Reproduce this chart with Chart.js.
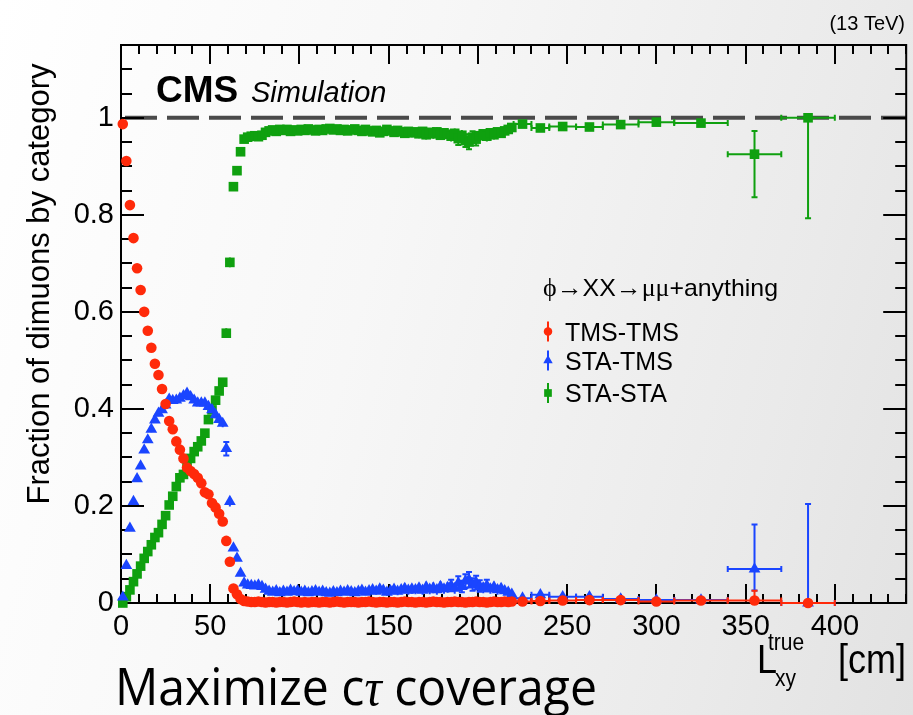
<!DOCTYPE html>
<html>
<head>
<meta charset="utf-8">
<script src="https://cdn.jsdelivr.net/npm/chart.js@4/dist/chart.umd.min.js"></script>
<style>
  html, body { margin: 0; padding: 0; }
  body {
    width: 913px; height: 715px; overflow: hidden;
    background: linear-gradient(105deg, #ffffff 0%, #f7f7f7 40%, #eaeaea 80%, #e2e2e2 100%);
  }
  canvas { display: block; }
</style>
</head>
<body>
<canvas id="chart" width="913" height="715"></canvas>
<script>
// Bin edges in L_xy^true [cm]: 2 cm bins up to 220 cm, wider bins beyond.
const binEdges = [
  0, 2, 4, 6, 8, 10, 12, 14, 16, 18, 20, 22, 24, 26, 28, 30, 32, 34, 36, 38,
  40, 42, 44, 46, 48, 50, 52, 54, 56, 58, 60, 62, 64, 66, 68, 70, 72, 74, 76, 78,
  80, 82, 84, 86, 88, 90, 92, 94, 96, 98, 100, 102, 104, 106, 108, 110, 112, 114, 116, 118,
  120, 122, 124, 126, 128, 130, 132, 134, 136, 138, 140, 142, 144, 146, 148, 150, 152, 154, 156, 158,
  160, 162, 164, 166, 168, 170, 172, 174, 176, 178, 180, 182, 184, 186, 188, 190, 192, 194, 196, 198,
  200, 202, 204, 206, 208, 210, 212, 214, 216, 218, 220,
  230, 240, 255, 270, 290, 310, 340, 370, 400
];

// Fraction of dimuons per category, one value per bin
const tmsTms = [
  0.987, 0.911, 0.820, 0.752, 0.690, 0.645, 0.600, 0.561, 0.526, 0.493,
  0.470, 0.441, 0.410, 0.375, 0.358, 0.333, 0.316, 0.298, 0.279, 0.272,
  0.266, 0.258, 0.247, 0.228, 0.224, 0.206, 0.197, 0.184, 0.168, 0.128,
  0.085, 0.030, 0.018, 0.008, 0.004,
  0.003, 0.002, 0.002, 0.003, 0.002, 0.001, 0.002, 0.002, 0.001, 0.002,
  0.002, 0.001, 0.002, 0.003, 0.002, 0.001, 0.002, 0.001, 0.002, 0.002,
  0.001, 0.002, 0.002, 0.001, 0.002, 0.003, 0.002, 0.001, 0.002, 0.002,
  0.002, 0.001, 0.002, 0.002, 0.003, 0.002, 0.001, 0.002, 0.002, 0.001,
  0.002, 0.002, 0.001, 0.002, 0.003, 0.002, 0.002, 0.001, 0.002, 0.002,
  0.001, 0.002, 0.003, 0.002, 0.002, 0.001, 0.002, 0.002, 0.003, 0.002,
  0.002, 0.001, 0.002, 0.002, 0.003, 0.002, 0.002, 0.001, 0.002, 0.003,
  0.002, 0.002, 0.003, 0.002, 0.003,
  0.003, 0.004, 0.005, 0.006, 0.006, 0.003, 0.005, 0.005, 0.000
];
const staTms = [
  0.012, 0.077, 0.154, 0.209, 0.256, 0.282, 0.315, 0.336, 0.358, 0.377,
  0.391, 0.398, 0.408, 0.420, 0.417, 0.418, 0.422, 0.427, 0.432, 0.425,
  0.418, 0.412, 0.412, 0.412, 0.405, 0.398, 0.388, 0.378, 0.370, 0.318,
  0.209, 0.113, 0.092, 0.061, 0.041,
  0.037, 0.036, 0.035, 0.037, 0.034, 0.028, 0.024, 0.022, 0.025, 0.021,
  0.024, 0.022, 0.026, 0.023, 0.025, 0.022, 0.024, 0.021, 0.023, 0.025,
  0.022, 0.024, 0.021, 0.020, 0.023, 0.021, 0.024, 0.022, 0.025, 0.023,
  0.021, 0.024, 0.026, 0.022, 0.025, 0.027, 0.024, 0.029, 0.026, 0.022,
  0.025, 0.028, 0.024, 0.027, 0.030, 0.026, 0.029, 0.027, 0.031, 0.026,
  0.033, 0.028, 0.031, 0.027, 0.034, 0.029, 0.032, 0.036, 0.030, 0.041,
  0.034, 0.045, 0.048, 0.038, 0.042, 0.035, 0.031, 0.036, 0.029, 0.033,
  0.027, 0.030, 0.025, 0.022, 0.018,
  0.010, 0.017, 0.013, 0.013, 0.008, 0.006, 0.006, 0.070, 0.000
];
const staSta = [
  0.000, 0.013, 0.027, 0.044, 0.060, 0.076, 0.092, 0.106, 0.120, 0.135,
  0.145, 0.162, 0.180, 0.202, 0.220, 0.240, 0.258, 0.265, 0.282, 0.298,
  0.312, 0.322, 0.334, 0.350, 0.378, 0.398, 0.418, 0.437, 0.455, 0.556,
  0.702, 0.858, 0.891, 0.930, 0.956,
  0.960, 0.962, 0.963, 0.961, 0.964, 0.970, 0.973, 0.975, 0.972, 0.976,
  0.974, 0.976, 0.972, 0.975, 0.973, 0.976, 0.974, 0.977, 0.975, 0.973,
  0.976, 0.974, 0.977, 0.978, 0.975, 0.977, 0.974, 0.976, 0.973, 0.975,
  0.977, 0.974, 0.972, 0.976, 0.973, 0.971, 0.974, 0.969, 0.972, 0.976,
  0.973, 0.970, 0.974, 0.971, 0.968, 0.972, 0.969, 0.971, 0.967, 0.972,
  0.965, 0.970, 0.967, 0.971, 0.964, 0.969, 0.966, 0.962, 0.968, 0.957,
  0.964, 0.953, 0.950, 0.960, 0.956, 0.963, 0.967, 0.962, 0.969, 0.965,
  0.971, 0.968, 0.973, 0.976, 0.980,
  0.987, 0.979, 0.982, 0.981, 0.986, 0.991, 0.989, 0.925, 1.000
];

// Statistical uncertainties, 2 cm bins (symmetric)
const tmsTmsErrFine = [
  0.003, 0.004, 0.005, 0.005, 0.005, 0.005, 0.005, 0.005, 0.005, 0.005,
  0.005, 0.005, 0.005, 0.005, 0.005, 0.005, 0.005, 0.005, 0.005, 0.005,
  0.005, 0.005, 0.005, 0.005, 0.005, 0.005, 0.005, 0.005, 0.005, 0.006,
  0.005, 0.003, 0.002, 0.002, 0.001,
  0.001, 0.001, 0.001, 0.001, 0.001, 0.001, 0.001, 0.001, 0.001, 0.001,
  0.001, 0.001, 0.001, 0.001, 0.001, 0.001, 0.001, 0.001, 0.001, 0.001,
  0.001, 0.001, 0.001, 0.001, 0.001, 0.001, 0.001, 0.001, 0.001, 0.001,
  0.001, 0.001, 0.001, 0.001, 0.001, 0.001, 0.001, 0.001, 0.001, 0.001,
  0.001, 0.001, 0.001, 0.001, 0.001, 0.001, 0.001, 0.001, 0.001, 0.001,
  0.001, 0.001, 0.001, 0.001, 0.001, 0.001, 0.001, 0.001, 0.001, 0.001,
  0.001, 0.001, 0.001, 0.001, 0.001, 0.001, 0.001, 0.001, 0.001, 0.001,
  0.001, 0.001, 0.001, 0.001, 0.001
];
const staTmsErrFine = [
  0.002, 0.004, 0.005, 0.005, 0.006, 0.006, 0.006, 0.006, 0.006, 0.006,
  0.006, 0.006, 0.006, 0.006, 0.006, 0.006, 0.006, 0.006, 0.006, 0.006,
  0.006, 0.006, 0.006, 0.007, 0.007, 0.007, 0.008, 0.008, 0.008, 0.014,
  0.010, 0.006, 0.005, 0.004, 0.003,
  0.004, 0.004, 0.004, 0.004, 0.004, 0.004, 0.004, 0.004, 0.004, 0.004,
  0.004, 0.004, 0.005, 0.004, 0.005, 0.004, 0.005, 0.004, 0.005, 0.005,
  0.005, 0.005, 0.005, 0.005, 0.005, 0.005, 0.006, 0.005, 0.006, 0.006,
  0.006, 0.006, 0.007, 0.006, 0.007, 0.007, 0.007, 0.008, 0.007, 0.007,
  0.008, 0.009, 0.008, 0.009, 0.010, 0.009, 0.010, 0.009, 0.010, 0.009,
  0.011, 0.010, 0.011, 0.010, 0.011, 0.010, 0.011, 0.012, 0.011, 0.014,
  0.012, 0.014, 0.016, 0.013, 0.014, 0.012, 0.011, 0.012, 0.010, 0.011,
  0.010, 0.010, 0.009, 0.008, 0.007
];
const staStaErrFine = [
  0.001, 0.002, 0.003, 0.004, 0.004, 0.005, 0.005, 0.005, 0.005, 0.005,
  0.005, 0.005, 0.005, 0.005, 0.005, 0.005, 0.005, 0.005, 0.006, 0.006,
  0.006, 0.006, 0.006, 0.006, 0.006, 0.006, 0.007, 0.007, 0.007, 0.010,
  0.010, 0.006, 0.005, 0.004, 0.003,
  0.003, 0.003, 0.003, 0.003, 0.003, 0.003, 0.003, 0.003, 0.003, 0.003,
  0.003, 0.003, 0.004, 0.003, 0.004, 0.003, 0.004, 0.003, 0.004, 0.004,
  0.004, 0.004, 0.004, 0.004, 0.004, 0.004, 0.005, 0.004, 0.005, 0.005,
  0.005, 0.005, 0.006, 0.005, 0.006, 0.006, 0.006, 0.007, 0.006, 0.006,
  0.007, 0.008, 0.007, 0.008, 0.009, 0.008, 0.009, 0.008, 0.009, 0.008,
  0.010, 0.009, 0.010, 0.009, 0.010, 0.009, 0.010, 0.011, 0.010, 0.013,
  0.011, 0.013, 0.015, 0.012, 0.013, 0.011, 0.010, 0.011, 0.009, 0.010,
  0.009, 0.009, 0.008, 0.007, 0.006
];

// Statistical uncertainties, wide bins (asymmetric: down / up)
const tmsTmsErrWideLo = [0.003, 0.004, 0.005, 0.006, 0.006, 0.003, 0.005, 0.005, 0.000];
const tmsTmsErrWideHi = [0.003, 0.004, 0.004, 0.004, 0.004, 0.004, 0.005, 0.020, 0.000];
const staTmsErrWideLo = [0.003, 0.005, 0.004, 0.004, 0.003, 0.003, 0.003, 0.044, 0.000];
const staTmsErrWideHi = [0.004, 0.006, 0.005, 0.005, 0.004, 0.004, 0.004, 0.092, 0.204];
const staStaErrWideLo = [0.004, 0.006, 0.005, 0.005, 0.004, 0.004, 0.005, 0.089, 0.207];
const staStaErrWideHi = [0.003, 0.005, 0.004, 0.004, 0.003, 0.003, 0.004, 0.048, 0.000];

// Axis tick values and labels
const xTickValues = [0, 50, 100, 150, 200, 250, 300, 350, 400];
const xTickLabels = ['0', '50', '100', '150', '200', '250', '300', '350', '400'];
const yTickValues = [0, 0.2, 0.4, 0.6, 0.8, 1.0];
const yTickLabels = ['0', '0.2', '0.4', '0.6', '0.8', '1'];

const seriesNames = ['TMS-TMS', 'STA-TMS', 'STA-STA'];

const RED = '#ff2a0a';
const BLUE = '#1a45ff';
const GREEN = '#0fa00f';
const SANS = '"Liberation Sans", Arial, Helvetica, sans-serif';
const SERIF = '"Liberation Serif", "DejaVu Serif", serif';

// Bin centres and half widths derived from the edges
const centers = binEdges.slice(0, -1).map((e, i) => (e + binEdges[i + 1]) / 2);
const halfWidths = binEdges.slice(0, -1).map((e, i) => (binEdges[i + 1] - e) / 2);
const toPoints = vals => vals.map((v, i) => ({ x: centers[i], y: v }));

function markerSpec(style) {
  if (style === 'circle') return { pointStyle: 'circle', radius: 5.3 };
  if (style === 'triangle') return { pointStyle: 'triangle', radius: 6.8 };
  return { pointStyle: 'rect', radius: 6.8 };
}

// Error bars (horizontal = bin width, vertical = uncertainty) drawn just under each series
const errorBarPlugin = {
  id: 'errorBars',
  beforeDatasetDraw(chart, args) {
    const ds = chart.data.datasets[args.index];
    const xs = chart.scales.x, ys = chart.scales.y;
    const ctx = chart.ctx;
    const cap = 3;
    const r = markerSpec(ds.pointStyle).radius;
    ctx.save();
    ctx.strokeStyle = ds.backgroundColor;
    ctx.lineWidth = 2;
    ds.data.forEach((p, i) => {
      const px = xs.getPixelForValue(p.x);
      const py = ys.getPixelForValue(p.y);
      const xl = xs.getPixelForValue(p.x - halfWidths[i]);
      const xr = xs.getPixelForValue(p.x + halfWidths[i]);
      const yt = ys.getPixelForValue(p.y + ds.errHi[i]);
      const yb = ys.getPixelForValue(p.y - ds.errLo[i]);
      ctx.beginPath();
      if (px - xl > r) {
        ctx.moveTo(xl, py); ctx.lineTo(xr, py);
        ctx.moveTo(xl, py - cap); ctx.lineTo(xl, py + cap);
        ctx.moveTo(xr, py - cap); ctx.lineTo(xr, py + cap);
      }
      if (py - yt > 1) {
        ctx.moveTo(px, py); ctx.lineTo(px, yt);
        if (py - yt > r - 1) { ctx.moveTo(px - cap, yt); ctx.lineTo(px + cap, yt); }
      }
      if (yb - py > 1) {
        ctx.moveTo(px, py); ctx.lineTo(px, yb);
        if (yb - py > r - 1) { ctx.moveTo(px - cap, yb); ctx.lineTo(px + cap, yb); }
      }
      ctx.stroke();
    });
    ctx.restore();
  }
};

// Frame with inward ticks on all four sides, and the dashed reference line at 1
const framePlugin = {
  id: 'frame',
  beforeDatasetsDraw(chart) {
    const { ctx, chartArea: a } = chart;
    const xs = chart.scales.x, ys = chart.scales.y;
    ctx.save();
    // dashed line at unity
    const y1 = ys.getPixelForValue(1);
    ctx.strokeStyle = '#4a4a4a';
    ctx.lineWidth = 4;
    ctx.setLineDash([32, 10]);
    ctx.lineDashOffset = -4;
    ctx.beginPath();
    ctx.moveTo(a.left, y1); ctx.lineTo(a.right, y1);
    ctx.stroke();
    ctx.setLineDash([]);

    ctx.strokeStyle = '#000';
    ctx.lineWidth = 2;
    ctx.strokeRect(a.left, a.top, a.right - a.left, a.bottom - a.top);
    ctx.beginPath();
    for (let v = 0; v <= xs.max; v += 10) {
      const px = Math.round(xs.getPixelForValue(v));
      const len = v % 50 === 0 ? 19 : 9;
      ctx.moveTo(px, a.bottom); ctx.lineTo(px, a.bottom - len);
      ctx.moveTo(px, a.top); ctx.lineTo(px, a.top + len);
    }
    for (let k = 0; k * 0.05 <= ys.max + 1e-9; k++) {
      const py = Math.round(ys.getPixelForValue(k * 0.05));
      const len = k % 4 === 0 ? 23 : 11;
      ctx.moveTo(a.left, py); ctx.lineTo(a.left + len, py);
      ctx.moveTo(a.right, py); ctx.lineTo(a.right - len, py);
    }
    ctx.stroke();
    ctx.restore();
  }
};

function drawRuns(ctx, runs, x, y) {
  runs.forEach(r => {
    ctx.font = r.font;
    ctx.fillText(r.text, x, y + (r.dy || 0));
    x += ctx.measureText(r.text).width + (r.gap || 0);
  });
}
function runsWidth(ctx, runs) {
  let w = 0;
  runs.forEach(r => { ctx.font = r.font; w += ctx.measureText(r.text).width + (r.gap || 0); });
  return w;
}

// Labels, legend and captions
const textPlugin = {
  id: 'texts',
  afterDraw(chart) {
    const ctx = chart.ctx;
    ctx.save();
    ctx.fillStyle = '#000';
    ctx.textBaseline = 'alphabetic';
    ctx.textAlign = 'left';

    // CMS Simulation
    ctx.font = 'bold 37px ' + SANS;
    ctx.fillText('CMS', 156, 102);
    ctx.font = 'italic 29px ' + SANS;
    ctx.fillText('Simulation', 251, 102);

    // energy
    ctx.font = '20px ' + SANS;
    ctx.textAlign = 'right';
    ctx.fillText('(13 TeV)', 905, 30);
    ctx.textAlign = 'left';

    // legend header
    const header = [
      { text: 'ϕ', font: '25px ' + SERIF },
      { text: '→', font: '25px ' + SERIF },
      { text: 'XX', font: '24px ' + SANS },
      { text: '→', font: '25px ' + SERIF },
      { text: 'μμ', font: '25px ' + SERIF },
      { text: '+anything', font: '24px ' + SANS }
    ];
    const hw = runsWidth(ctx, header);
    ctx.save();
    ctx.translate(543, 296);
    ctx.scale(235 / hw, 1);
    drawRuns(ctx, header, 0, 0);
    ctx.restore();

    // legend entries
    const dsets = chart.data.datasets;
    const rowsY = [331.5, 360.5, 393];
    dsets.forEach((ds, i) => {
      const y = rowsY[i];
      ctx.strokeStyle = ds.backgroundColor;
      ctx.fillStyle = ds.backgroundColor;
      ctx.lineWidth = 2;
      ctx.beginPath();
      ctx.moveTo(548, y - 10); ctx.lineTo(548, y + 10);
      ctx.stroke();
      const spec = markerSpec(ds.pointStyle);
      Chart.helpers.drawPoint(ctx, { pointStyle: spec.pointStyle, radius: spec.radius * 0.8, rotation: 0, borderWidth: 0 }, 548, y);
      ctx.fillStyle = '#000';
      ctx.font = '25px ' + SANS;
      ctx.fillText(seriesNames[i], 565, y + 9);
    });

    // y-axis title
    ctx.save();
    ctx.translate(49, 284);
    ctx.rotate(-Math.PI / 2);
    ctx.font = '31px ' + SANS;
    ctx.textAlign = 'center';
    ctx.fillText('Fraction of dimuons by category', 0, 0);
    ctx.restore();

    // x-axis title
    ctx.save();
    ctx.translate(0, 673);
    ctx.scale(1, 1.15);
    ctx.font = '36px ' + SANS;
    ctx.fillText('L', 757, 0);
    ctx.fillText('[cm]', 838, 0);
    ctx.font = '21px ' + SANS;
    ctx.fillText('true', 768, -20);
    ctx.fillText('xy', 775, 11);
    ctx.restore();

    // caption below the plot
    const caption = [
      { text: 'Maximize c', font: '52px "Open Sans", "Noto Sans", sans-serif' },
      { text: 'τ', font: 'italic 52px ' + SERIF },
      { text: ' coverage', font: '52px "Open Sans", "Noto Sans", sans-serif' }
    ];
    const cw = runsWidth(ctx, caption);
    ctx.save();
    ctx.translate(115, 705);
    ctx.scale(482 / cw, 1);
    drawRuns(ctx, caption, 0, 0);
    ctx.restore();

    ctx.restore();
  }
};

const tickFont = { family: SANS, size: 29 };

function makeDataset(name, values, errFine, errWideLo, errWideHi, color, style, order) {
  const spec = markerSpec(style);
  return {
    label: name,
    data: toPoints(values),
    errLo: errFine.concat(errWideLo),
    errHi: errFine.concat(errWideHi),
    backgroundColor: color,
    borderColor: color,
    pointStyle: spec.pointStyle,
    pointRadius: spec.radius,
    pointBorderWidth: 0,
    pointHoverRadius: spec.radius,
    showLine: false,
    clip: false,
    order: order
  };
}

new Chart(document.getElementById('chart'), {
  type: 'scatter',
  data: {
    datasets: [
      makeDataset(seriesNames[0], tmsTms, tmsTmsErrFine, tmsTmsErrWideLo, tmsTmsErrWideHi, RED, 'circle', 0),
      makeDataset(seriesNames[1], staTms, staTmsErrFine, staTmsErrWideLo, staTmsErrWideHi, BLUE, 'triangle', 1),
      makeDataset(seriesNames[2], staSta, staStaErrFine, staStaErrWideLo, staStaErrWideHi, GREEN, 'rect', 2)
    ]
  },
  options: {
    responsive: false,
    animation: false,
    devicePixelRatio: 1,
    events: [],
    layout: { padding: { top: 45, right: 6, left: 0, bottom: 0 } },
    plugins: { legend: { display: false }, tooltip: { enabled: false } },
    scales: {
      x: {
        type: 'linear',
        min: 0,
        max: 440,
        afterFit(scale) { scale.height = 112; },
        afterBuildTicks(scale) { scale.ticks = xTickValues.map(v => ({ value: v })); },
        ticks: {
          callback: (v, i) => xTickLabels[i],
          font: tickFont,
          color: '#000',
          padding: 7,
          maxRotation: 0,
          autoSkip: false,
          includeBounds: false
        },
        grid: { display: false, drawTicks: false },
        border: { display: false }
      },
      y: {
        type: 'linear',
        min: 0,
        max: 1.15,
        afterFit(scale) { scale.width = 121; },
        afterBuildTicks(scale) { scale.ticks = yTickValues.map(v => ({ value: v })); },
        ticks: {
          callback: (v, i) => yTickLabels[i],
          font: tickFont,
          color: '#000',
          padding: 7,
          autoSkip: false,
          includeBounds: false
        },
        grid: { display: false, drawTicks: false },
        border: { display: false }
      }
    }
  },
  plugins: [framePlugin, errorBarPlugin, textPlugin]
});
</script>
</body>
</html>
